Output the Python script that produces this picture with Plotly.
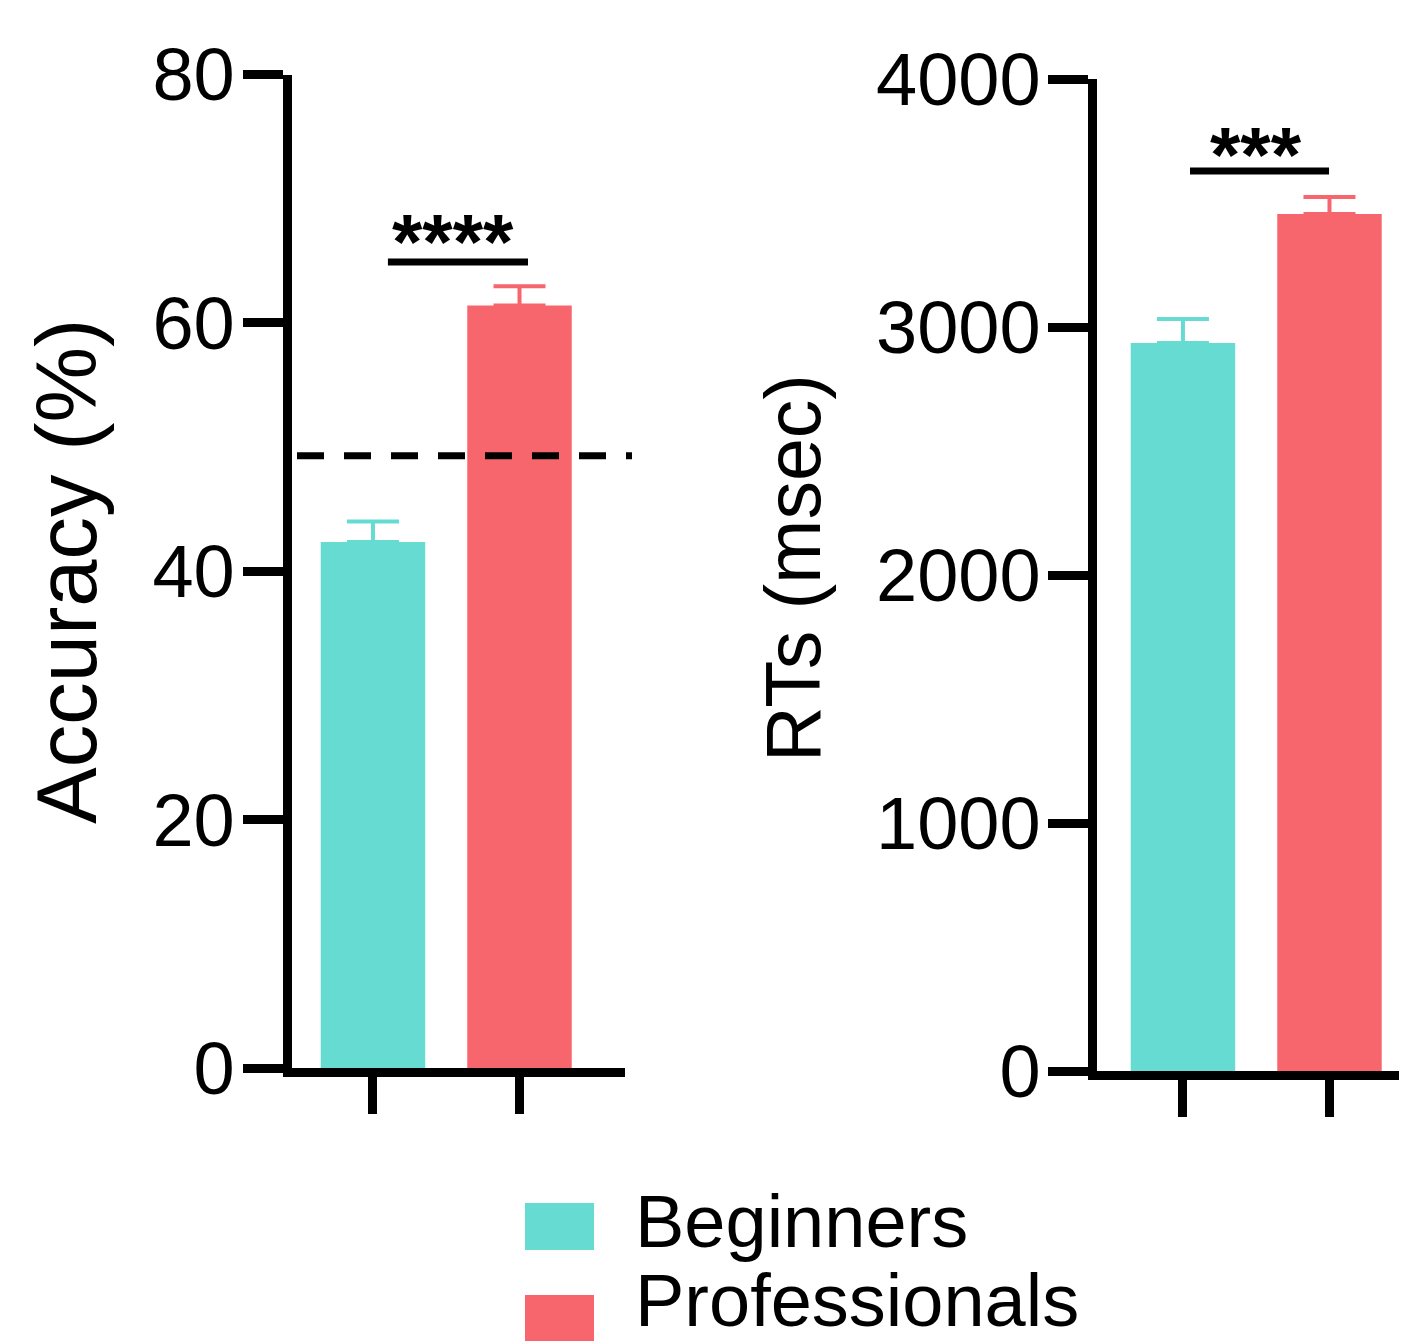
import plotly.graph_objects as go

# ---------------- data ----------------
groups = ["Beginners", "Professionals"]
acc_mean = [42.35, 61.4]
acc_sem = [1.65, 1.55]
rt_mean = [2935, 3456]
rt_sem = [97, 68]
chance_level = 49.3
acc_ticks = [0, 20, 40, 60, 80]
rt_ticks = [0, 1000, 2000, 3000, 4000]
sig_acc = "****"
sig_rt = "***"

colors = ["#66DBD1", "#F7666C"]

OFF = 8  # page body margin
W, H = 1407 - OFF, 1341 - OFF
FONT = "Liberation Sans, Arial, Helvetica, sans-serif"


def px(x):
    return (x - OFF) / W


def py(y):
    return 1 - (y - OFF) / H


fig = go.Figure()

for i, g in enumerate(groups):
    fig.add_trace(go.Bar(
        x=[i], y=[acc_mean[i]], width=0.713, name=g,
        marker=dict(color=colors[i], line=dict(width=0)),
        error_y=dict(type="data", symmetric=False, array=[acc_sem[i]], arrayminus=[0],
                     color=colors[i], thickness=4, width=26),
        xaxis="x", yaxis="y", showlegend=False))
    fig.add_trace(go.Bar(
        x=[i], y=[rt_mean[i]], width=0.713, name=g,
        marker=dict(color=colors[i], line=dict(width=0)),
        error_y=dict(type="data", symmetric=False, array=[rt_sem[i]], arrayminus=[0],
                     color=colors[i], thickness=4, width=26),
        xaxis="x2", yaxis="y2", showlegend=False))

axis_common = dict(showgrid=False, zeroline=False, showline=True, linecolor="black",
                   linewidth=9, ticks="outside", tickcolor="black", tickwidth=9,
                   automargin=False)

fig.update_layout(
    width=W, height=H,
    margin=dict(l=0, r=0, t=0, b=0, pad=0),
    paper_bgcolor="white", plot_bgcolor="white",
    barmode="overlay",
    showlegend=False,
    font=dict(family=FONT, color="black"),
    xaxis=dict(domain=[px(291.5), px(625)], range=[-0.556, 1.72], anchor="y",
               tickvals=[0, 1], showticklabels=False, ticklen=37, **axis_common),
    yaxis=dict(domain=[py(1068), py(74.5)], range=[0, 80], anchor="x",
               tickvals=acc_ticks, ticklen=40, ticklabelstandoff=-7,
               tickfont=dict(size=74, family=FONT), **axis_common),
    xaxis2=dict(domain=[px(1096.5), 1.0], range=[-0.59, 1.529], anchor="y2",
                tickvals=[0, 1], showticklabels=False, ticklen=37, **axis_common),
    yaxis2=dict(domain=[py(1071), py(79)], range=[0, 4000], anchor="x2",
                tickvals=rt_ticks, ticklen=40, ticklabelstandoff=-8,
                tickfont=dict(size=74, family=FONT), **axis_common),
)

# chance level dashed line
fig.add_shape(type="line", xref="paper", yref="y", x0=px(297), x1=px(632),
              y0=chance_level, y1=chance_level,
              line=dict(color="black", width=7, dash="27px,20px"))

# significance bars
fig.add_shape(type="line", xref="x", yref="y", x0=0.102, x1=1.058, y0=64.9, y1=64.9,
              line=dict(color="black", width=7))
fig.add_shape(type="line", xref="x2", yref="y2", x0=0.048, x1=0.997, y0=3629, y1=3629,
              line=dict(color="black", width=7))
fig.add_annotation(xref="paper", yref="paper", x=px(453), y=py(242), text=sig_acc,
                   showarrow=False, xanchor="center", yanchor="middle",
                   font=dict(size=78, family=FONT, weight="bold"))
fig.add_annotation(xref="paper", yref="paper", x=px(1256), y=py(155), text=sig_rt,
                   showarrow=False, xanchor="center", yanchor="middle",
                   font=dict(size=78, family=FONT, weight="bold"))

# axis titles
fig.add_annotation(xref="paper", yref="paper", x=px(66), y=py(572), text="Accuracy (%)",
                   textangle=-90, showarrow=False, xanchor="center", yanchor="middle",
                   font=dict(size=85, family=FONT))
fig.add_annotation(xref="paper", yref="paper", x=px(793), y=py(568), text="RTs (msec)",
                   textangle=-90, showarrow=False, xanchor="center", yanchor="middle",
                   font=dict(size=77, family=FONT))

# legend
swatch_rows = [1226, 1318]
text_rows = [1221, 1300]
for i, g in enumerate(groups):
    yc = swatch_rows[i]
    fig.add_shape(type="rect", xref="paper", yref="paper",
                  x0=px(525), x1=px(594), y0=py(yc - 23), y1=py(yc + 24),
                  fillcolor=colors[i], line=dict(width=0))
    fig.add_annotation(xref="paper", yref="paper", x=px(633), y=py(text_rows[i]), text=g,
                       showarrow=False, xanchor="left", yanchor="middle",
                       font=dict(size=74, family=FONT))

fig.write_html("out.html")
